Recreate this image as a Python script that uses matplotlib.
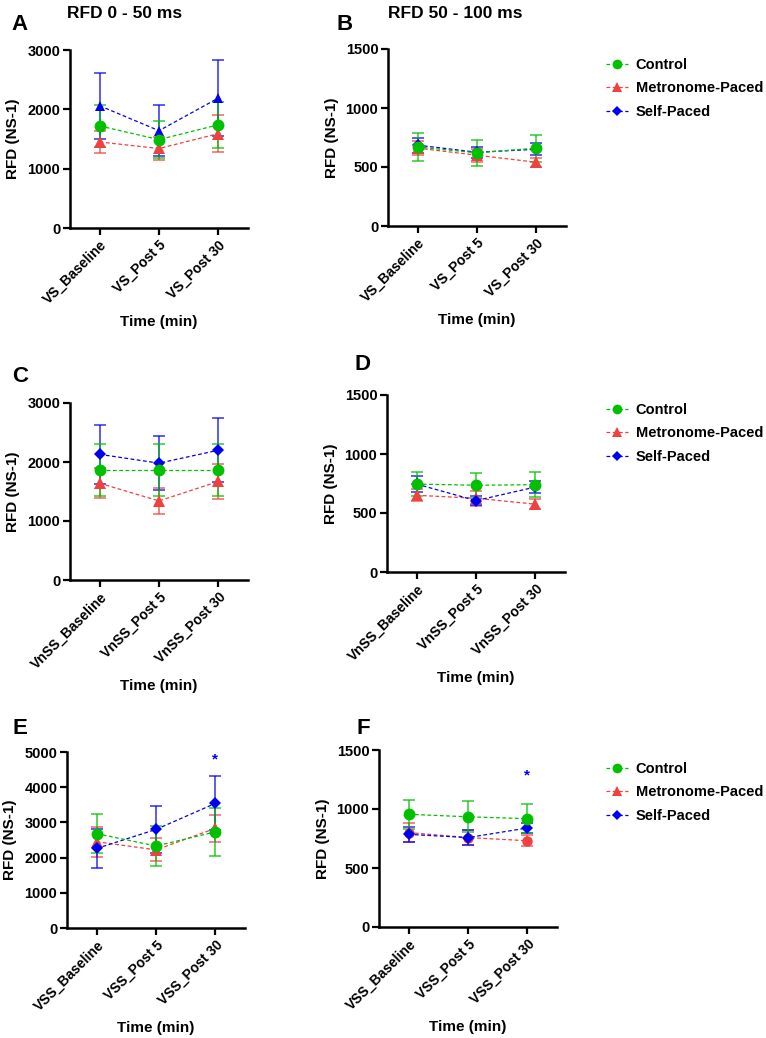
import matplotlib
matplotlib.use("Agg")
import matplotlib.pyplot as plt
from matplotlib.lines import Line2D

plt.rcParams['font.family'] = ['Liberation Sans', 'DejaVu Sans']
plt.rcParams['font.weight'] = 'bold'

groups = ["Control", "Metronome-Paced", "Self-Paced"]
colors = {"Control": "#00c000", "Metronome-Paced": "#f04040", "Self-Paced": "#0000f0"}

labels_VS = ["VS_Baseline", "VS_Post 5", "VS_Post 30"]
labels_VnSS = ["VnSS_Baseline", "VnSS_Post 5", "VnSS_Post 30"]
labels_VSS = ["VSS_Baseline", "VSS_Post 5", "VSS_Post 30"]

# Panel A: RFD 0-50 ms, VS
A_mean = {"Control": [1720, 1490, 1740], "Metronome-Paced": [1450, 1340, 1590], "Self-Paced": [2060, 1640, 2190]}
A_sd = {"Control": [360, 310, 390], "Metronome-Paced": [190, 190, 310], "Self-Paced": [560, 430, 640]}
# Panel B: RFD 50-100 ms, VS
B_mean = {"Control": [670, 620, 660], "Metronome-Paced": [660, 600, 540], "Self-Paced": [685, 625, 650]}
B_sd = {"Control": [115, 108, 115], "Metronome-Paced": [60, 55, 40], "Self-Paced": [65, 45, 50]}
# Panel C: RFD 0-50 ms, VnSS
C_mean = {"Control": [1860, 1860, 1860], "Metronome-Paced": [1640, 1340, 1670], "Self-Paced": [2130, 1980, 2200]}
C_sd = {"Control": [440, 440, 440], "Metronome-Paced": [250, 220, 290], "Self-Paced": [500, 460, 540]}
# Panel D: RFD 50-100 ms, VnSS
D_mean = {"Control": [745, 735, 740], "Metronome-Paced": [650, 625, 575], "Self-Paced": [745, 605, 720]}
D_sd = {"Control": [100, 105, 105], "Metronome-Paced": [50, 65, 40], "Self-Paced": [65, 40, 50]}
# Panel E: RFD 0-50 ms, VSS
E_mean = {"Control": [2680, 2330, 2730], "Metronome-Paced": [2450, 2220, 2830], "Self-Paced": [2260, 2800, 3540]}
E_sd = {"Control": [560, 580, 690], "Metronome-Paced": [430, 330, 390], "Self-Paced": [560, 680, 770]}
# Panel F: RFD 50-100 ms, VSS
F_mean = {"Control": [955, 934, 918], "Metronome-Paced": [800, 758, 731], "Self-Paced": [785, 758, 839]}
F_sd = {"Control": [125, 133, 125], "Metronome-Paced": [80, 63, 45], "Self-Paced": [65, 65, 40]}

star_E = 4780
star_F = 1281

markers = {"Control": "o", "Metronome-Paced": "^", "Self-Paced": "D"}
msizes = {"Control": 8.5, "Metronome-Paced": 8, "Self-Paced": 6}

W, H = 766, 1038
fig = plt.figure(figsize=(W / 100, H / 100), dpi=100)


def make_ax(left, top, bottom, width=178):
    return fig.add_axes([left / W, 1 - bottom / H, width / W, (bottom - top) / H])


panels = [
    ("A", make_ax(70, 50, 228), A_mean, A_sd, labels_VS, 3000, 1000, {"Self-Paced": "^"}),
    ("B", make_ax(388, 49, 226), B_mean, B_sd, labels_VS, 1500, 500, {}),
    ("C", make_ax(70, 403, 580), C_mean, C_sd, labels_VnSS, 3000, 1000, {}),
    ("D", make_ax(387, 395, 572), D_mean, D_sd, labels_VnSS, 1500, 500, {}),
    ("E", make_ax(67, 752, 928), E_mean, E_sd, labels_VSS, 5000, 1000, {}),
    ("F", make_ax(379, 750, 927), F_mean, F_sd, labels_VSS, 1500, 500, {"Metronome-Paced": "o"}),
]

for letter, ax, means, sds, xl, ymax, ystep, mk_over in panels:
    x = list(range(len(xl)))
    for g in ["Metronome-Paced", "Self-Paced", "Control"]:
        c = colors[g]
        mk = mk_over.get(g, markers[g])
        ax.errorbar(x, means[g], yerr=sds[g], fmt='none', ecolor=c, elinewidth=1.2,
                    capsize=4.5, capthick=1.2, alpha=0.75, zorder=2)
        ax.plot(x, means[g], linestyle=(0, (3, 2)), lw=0.9, color=c, marker=mk,
                markersize=msizes[g] if mk == markers[g] else 7.5, markeredgewidth=0, zorder=3)
    ax.set_xlim(-0.5, 2.5)
    ax.set_ylim(0, ymax)
    ax.set_yticks(list(range(0, ymax + 1, ystep)))
    ax.set_xticks(x)
    ax.set_xticklabels(xl, rotation=45, ha='right', rotation_mode='anchor', fontsize=10, fontweight='bold')
    for lab in ax.get_yticklabels():
        lab.set_fontweight('bold')
        lab.set_fontsize(10.5)
    for s in ['top', 'right']:
        ax.spines[s].set_visible(False)
    for s in ['left', 'bottom']:
        ax.spines[s].set_linewidth(1.8)
    ax.tick_params(axis='both', width=1.6, length=5, direction='out', pad=2)
    ax.set_ylabel("RFD (NS-1)", fontsize=11, fontweight='bold', labelpad=5)
    ax.set_xlabel("Time (min)", fontsize=11, fontweight='bold', labelpad=6)

axA, axB, axC, axD, axE, axF = [p[1] for p in panels]
axE.text(2, star_E, "*", color=colors["Self-Paced"], ha='center', va='center', fontsize=11)
axF.text(2, star_F, "*", color=colors["Self-Paced"], ha='center', va='center', fontsize=11)

# Titles and panel letters
fig.text(125 / W, 1 - 13 / H, "RFD 0 - 50 ms", ha='center', va='center', fontsize=12.5, fontweight='bold')
fig.text(455 / W, 1 - 13 / H, "RFD 50 - 100 ms", ha='center', va='center', fontsize=12.5, fontweight='bold')
for letter, (px, py) in zip("ABCDEF", [(20, 25), (345, 25), (20, 377), (363, 365), (20, 729), (363, 728)]):
    fig.text(px / W, 1 - py / H, letter, ha='center', va='center', fontsize=16, fontweight='bold')

# Legends
handles = [Line2D([0], [0], color=colors[g], linestyle=(0, (3, 2)), lw=0.9, marker=markers[g],
                  markersize=7 if g != "Self-Paced" else 5, markeredgewidth=0) for g in groups]
for top in [52, 397, 756]:
    fig.legend(handles, groups, loc='upper left', bbox_to_anchor=(600 / W, 1 - top / H),
               frameon=False, handlelength=1.5, handletextpad=0.55, labelspacing=0.65,
               prop={'weight': 'bold', 'size': 10.5}, borderaxespad=0)

fig.savefig("out.png", dpi=100)
